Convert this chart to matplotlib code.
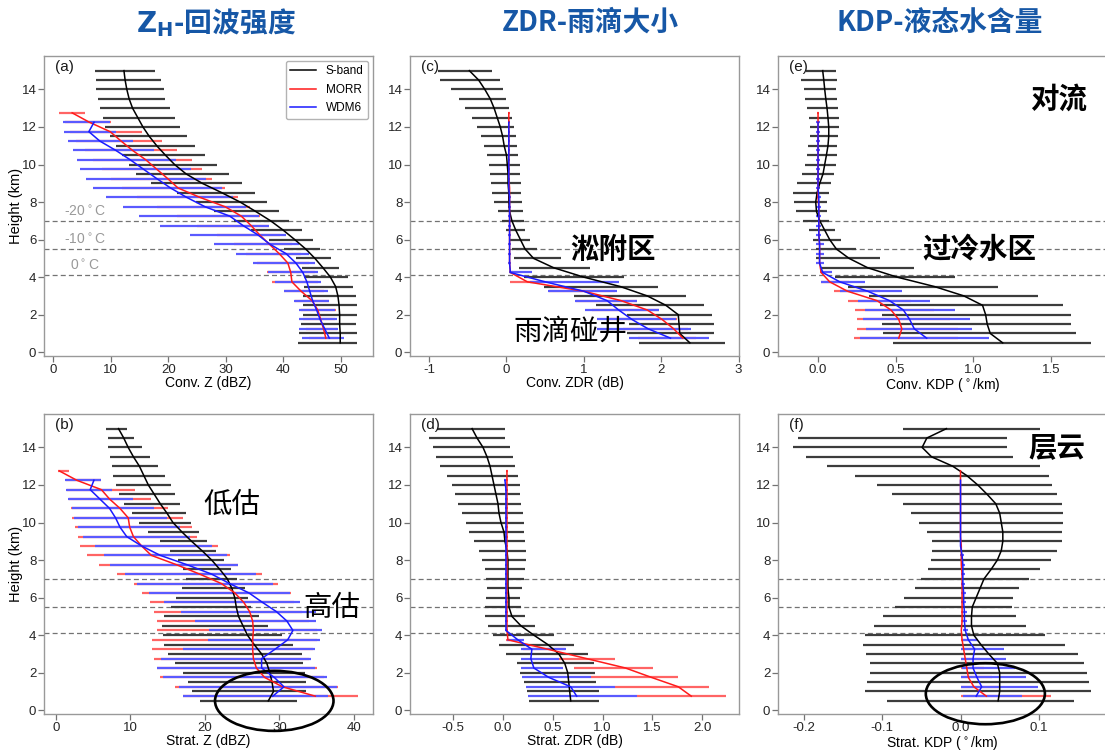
import matplotlib
matplotlib.use("Agg")
import matplotlib.pyplot as plt
from matplotlib.patches import Ellipse

plt.rcParams['font.family'] = ['Liberation Sans', 'Noto Sans CJK SC', 'DejaVu Sans']
plt.rcParams['axes.unicode_minus'] = False

# heights (km) of the radar profile and of the two model profiles
h_obs = [15.0, 14.5, 14.0, 13.5, 13.0, 12.5, 12.0, 11.5, 11.0, 10.5, 10.0, 9.5, 9.0, 8.5, 8.0,
         7.5, 7.0, 6.5, 6.0, 5.5, 5.0, 4.5, 4.0, 3.5, 3.0, 2.5, 2.0, 1.5, 1.0, 0.5]
h_morr = [12.75, 12.25, 11.75, 11.25, 10.75, 10.25, 9.75, 9.25, 8.75, 8.25, 7.75, 7.25, 6.75,
          6.25, 5.75, 5.25, 4.75, 4.25, 3.75, 3.25, 2.75, 2.25, 1.75, 1.25, 0.75]
h_wdm6 = [12.25, 11.75, 11.25, 10.75, 10.25, 9.75, 9.25, 8.75, 8.25, 7.75, 7.25, 6.75,
          6.25, 5.75, 5.25, 4.75, 4.25, 3.75, 3.25, 2.75, 2.25, 1.75, 1.25, 0.75]

# isotherm heights
iso_levels = [7.0, 5.5, 4.1]
iso_labels = ['-20$^\\circ$C', '-10$^\\circ$C', '0$^\\circ$C']

# ---- (a) convective Z
zc_obs = [12.3, 12.5, 12.8, 13.2, 13.8, 14.7, 15.6, 16.7, 18.0, 19.5, 21.1, 23.1, 25.9, 29.3, 32.5,
          35.2, 37.8, 40.0, 42.0, 43.9, 45.5, 46.9, 48.2, 49.1, 49.5, 49.7, 49.8, 49.8, 49.9, 49.9]
zc_obs_lo = [7.3, 7.4, 7.5, 7.8, 8.1, 8.6, 9.0, 9.9, 10.9, 12.0, 13.2, 14.4, 17.0, 21.5, 24.8,
             28.0, 31.5, 34.4, 37.6, 40.2, 42.2, 43.2, 43.6, 43.6, 43.5, 43.4, 43.4, 43.0, 42.8, 42.5]
zc_obs_hi = [17.7, 18.7, 19.3, 19.5, 20.3, 21.2, 22.1, 23.2, 24.6, 26.4, 28.5, 30.6, 32.8, 35.1, 37.1,
             39.3, 41.0, 43.2, 45.1, 46.3, 48.3, 49.7, 51.2, 52.1, 52.6, 52.8, 52.8, 52.7, 52.8, 52.9]
zc_morr = [3.3, 6.3, 9.9, 11.8, 13.8, 16.1, 18.0, 19.9, 21.7, 25.5, 29.9, 32.7, 34.4, 35.9, 37.6,
           39.3, 40.8, 41.3, 41.5, 43.1, 45.0, 46.0, 46.5, 47.0, 47.4]
zc_morr_lo = [1.0, 2.0, 3.0, 4.0, 5.5, 7.0, 8.5, 10.0, 12.0, 14.5, 18.0, 21.5, 25.0, 28.5, 31.5,
              33.5, 35.5, 37.1, 38.1, 40.2, 42.0, 43.0, 43.5, 44.0, 44.5]
zc_morr_hi = [5.5, 10.0, 15.4, 19.0, 21.6, 24.1, 25.8, 27.6, 29.9, 32.2, 34.2, 36.0, 37.5, 39.5, 41.5,
              43.0, 44.5, 45.5, 46.0, 47.0, 48.0, 49.2, 49.0, 49.3, 49.5]
zc_wdm6 = [7.1, 6.2, 8.1, 10.9, 13.4, 15.7, 18.0, 20.4, 23.2, 26.4, 30.7, 33.0, 35.6, 37.7, 40.5,
           42.2, 43.4, 44.1, 44.6, 45.1, 45.8, 46.4, 47.2, 48.0]
zc_wdm6_lo = [1.7, 1.9, 2.6, 3.5, 4.2, 4.6, 5.7, 7.0, 9.2, 12.1, 15.0, 18.6, 23.8, 28.0, 31.8,
              34.8, 37.3, 38.5, 40.2, 41.9, 42.7, 42.7, 42.7, 43.2]
zc_wdm6_hi = [9.9, 11.0, 13.9, 17.5, 21.3, 23.9, 26.5, 29.4, 31.2, 33.5, 35.8, 37.5, 40.5, 42.8, 44.5,
              45.5, 46.0, 46.5, 47.7, 48.0, 49.0, 49.4, 49.6, 50.6]

# ---- (b) stratiform Z
zs_obs = [8.4, 9.1, 9.7, 10.4, 11.2, 11.8, 12.4, 13.2, 14.0, 14.9, 15.7, 16.9, 18.2, 19.6, 20.9,
          22.0, 23.0, 23.6, 24.0, 24.2, 24.5, 25.1, 25.7, 26.6, 27.6, 28.3, 28.7, 29.0, 29.2, 28.5]
zs_obs_lo = [6.7, 7.0, 7.0, 7.2, 7.5, 7.7, 8.1, 8.5, 9.2, 10.2, 11.2, 12.4, 13.9, 15.3, 16.4,
             17.1, 17.5, 16.9, 16.1, 15.5, 14.5, 14.3, 14.4, 14.5, 15.0, 16.0, 17.0, 17.7, 18.3, 19.4]
zs_obs_hi = [9.6, 10.5, 11.5, 12.6, 13.7, 14.6, 15.4, 16.0, 16.6, 17.4, 18.1, 19.2, 20.3, 21.5, 22.5,
             23.5, 24.3, 25.4, 25.8, 26.2, 27.3, 28.5, 30.3, 31.8, 33.0, 33.2, 33.4, 33.6, 33.6, 32.4]
zs_morr = [0.45, 2.8, 6.1, 7.2, 8.6, 9.7, 9.9, 10.4, 11.5, 12.8, 16.2, 19.3, 22.2, 24.0, 25.2,
           26.0, 26.4, 26.5, 26.4, 26.4, 26.5, 26.9, 28.0, 30.4, 34.8]
zs_morr_lo = [0.3, 1.3, 1.5, 1.8, 2.0, 2.2, 2.5, 3.0, 3.2, 4.2, 5.8, 8.2, 10.5, 11.6, 12.6,
              13.2, 13.6, 13.6, 12.9, 12.9, 13.2, 13.5, 14.0, 16.0, 17.0]
zs_morr_hi = [1.7, 6.0, 10.6, 12.7, 15.1, 17.0, 18.3, 18.9, 21.7, 23.4, 24.5, 27.6, 29.8, 31.5, 32.0,
              33.0, 34.0, 35.0, 35.0, 34.5, 34.0, 35.0, 36.0, 37.8, 40.6]
zs_wdm6 = [5.1, 4.6, 5.9, 7.2, 8.0, 8.6, 9.5, 11.5, 14.0, 17.6, 20.9, 23.3, 25.9, 27.7, 29.6,
           31.0, 31.8, 31.1, 29.4, 27.6, 27.6, 29.3, 30.6, 29.1]
zs_wdm6_lo = [1.2, 1.4, 1.6, 2.2, 2.4, 2.9, 3.7, 5.2, 6.5, 7.3, 9.3, 10.9, 12.5, 14.5, 16.8,
              18.6, 20.6, 20.4, 17.0, 14.1, 13.6, 14.4, 16.5, 17.0]
zs_wdm6_hi = [6.1, 7.5, 10.4, 13.1, 14.9, 16.6, 18.0, 21.0, 23.0, 24.4, 26.9, 29.1, 31.4, 32.7, 34.9,
              34.9, 35.7, 35.5, 34.8, 34.2, 34.8, 36.4, 37.7, 36.5]

# ---- (c) convective ZDR
dc_obs = [-0.48, -0.36, -0.28, -0.21, -0.16, -0.12, -0.08, -0.05, -0.03, 0.0, 0.01, 0.02, 0.02, 0.03, 0.03,
          0.04, 0.07, 0.12, 0.18, 0.24, 0.35, 0.61, 1.0, 1.47, 1.82, 2.06, 2.22, 2.23, 2.24, 2.37]
dc_obs_lo = [-0.88, -0.86, -0.72, -0.62, -0.53, -0.45, -0.38, -0.33, -0.29, -0.25, -0.23, -0.21, -0.20, -0.19, -0.16,
             -0.11, -0.06, 0.0, 0.05, 0.07, 0.10, 0.16, 0.22, 0.48, 0.87, 1.16, 1.56, 1.58, 1.56, 1.71]
dc_obs_hi = [-0.19, -0.08, -0.04, 0.0, 0.03, 0.07, 0.10, 0.12, 0.13, 0.15, 0.17, 0.18, 0.19, 0.19, 0.20,
             0.21, 0.22, 0.24, 0.31, 0.39, 0.70, 1.08, 1.52, 1.96, 2.32, 2.55, 2.66, 2.68, 2.68, 2.82]
dc_morr = [0.03, 0.03, 0.03, 0.03, 0.03, 0.03, 0.03, 0.03, 0.04, 0.04, 0.04, 0.04, 0.04, 0.04, 0.04,
           0.04, 0.04, 0.05, 0.27, 1.00, 1.48, 1.82, 2.01, 2.16, 2.28]
dc_morr_lo = [0.02, 0.02, 0.02, 0.02, 0.02, 0.02, 0.02, 0.02, 0.03, 0.03, 0.03, 0.03, 0.03, 0.03, 0.03,
              0.03, 0.03, 0.03, 0.05, 0.55, 0.90, 1.10, 1.30, 1.50, 1.70]
dc_morr_hi = [0.04, 0.04, 0.04, 0.04, 0.04, 0.04, 0.04, 0.04, 0.05, 0.05, 0.05, 0.05, 0.05, 0.05, 0.05,
              0.05, 0.05, 0.08, 0.50, 1.40, 1.69, 1.97, 2.20, 2.35, 2.45]
dc_wdm6 = [0.03, 0.03, 0.03, 0.03, 0.03, 0.03, 0.03, 0.03, 0.04, 0.04, 0.04, 0.04, 0.04, 0.04, 0.04,
           0.04, 0.05, 0.50, 1.00, 1.30, 1.45, 1.62, 1.83, 2.12]
dc_wdm6_lo = [0.015, 0.015, 0.015, 0.015, 0.015, 0.015, 0.015, 0.015, 0.025, 0.025, 0.025, 0.025, 0.025,
              0.025, 0.025, 0.025, 0.03, 0.30, 0.54, 0.88, 1.02, 1.17, 1.17, 1.58]
dc_wdm6_hi = [0.045, 0.045, 0.045, 0.045, 0.045, 0.045, 0.045, 0.045, 0.055, 0.055, 0.055, 0.055, 0.055,
              0.055, 0.055, 0.055, 0.33, 1.45, 1.43, 1.69, 1.97, 2.19, 2.38, 2.62]

# ---- (d) stratiform ZDR
dd_obs = [-0.31, -0.26, -0.20, -0.16, -0.13, -0.11, -0.09, -0.07, -0.05, -0.04, -0.02, 0.01, 0.02, 0.04, 0.05,
          0.05, 0.05, 0.05, 0.06, 0.06, 0.09, 0.18, 0.31, 0.45, 0.56, 0.62, 0.65, 0.66, 0.67, 0.68]
dd_obs_lo = [-0.66, -0.74, -0.70, -0.67, -0.63, -0.56, -0.51, -0.48, -0.45, -0.41, -0.37, -0.34, -0.29, -0.24, -0.21,
             -0.18, -0.17, -0.16, -0.17, -0.18, -0.18, -0.15, -0.10, -0.04, 0.03, 0.14, 0.17, 0.21, 0.24, 0.26]
dd_obs_hi = [0.02, 0.02, 0.07, 0.10, 0.12, 0.15, 0.17, 0.17, 0.18, 0.20, 0.21, 0.21, 0.22, 0.23, 0.23,
             0.22, 0.21, 0.19, 0.17, 0.18, 0.22, 0.32, 0.51, 0.71, 0.85, 0.91, 0.92, 0.93, 0.96, 0.96]
dd_morr = [0.04, 0.04, 0.04, 0.04, 0.04, 0.04, 0.04, 0.04, 0.04, 0.04, 0.04, 0.04, 0.04, 0.04, 0.04,
           0.04, 0.04, 0.04, 0.05, 0.45, 0.84, 1.23, 1.49, 1.76, 1.89]
dd_morr_lo = [0.03, 0.03, 0.03, 0.03, 0.03, 0.03, 0.03, 0.03, 0.03, 0.03, 0.03, 0.03, 0.03, 0.03, 0.03,
              0.03, 0.03, 0.03, 0.03, 0.20, 0.56, 0.71, 0.88, 1.12, 1.35]
dd_morr_hi = [0.05, 0.05, 0.05, 0.05, 0.05, 0.05, 0.05, 0.05, 0.05, 0.05, 0.05, 0.05, 0.05, 0.05, 0.05,
              0.05, 0.05, 0.05, 0.07, 0.62, 1.12, 1.51, 1.76, 2.07, 2.24]
dd_wdm6 = [0.02, 0.03, 0.03, 0.03, 0.03, 0.03, 0.03, 0.03, 0.03, 0.03, 0.03, 0.03, 0.03, 0.03, 0.03,
           0.03, 0.03, 0.15, 0.29, 0.28, 0.31, 0.46, 0.68, 0.74]
dd_wdm6_lo = [0.01, 0.02, 0.02, 0.02, 0.02, 0.02, 0.02, 0.02, 0.02, 0.02, 0.02, 0.02, 0.02, 0.02, 0.02,
              0.02, 0.02, 0.04, 0.18, 0.18, 0.18, 0.19, 0.23, 0.25]
dd_wdm6_hi = [0.03, 0.04, 0.04, 0.04, 0.04, 0.04, 0.04, 0.04, 0.04, 0.04, 0.04, 0.04, 0.04, 0.04, 0.04,
              0.04, 0.04, 0.21, 0.63, 0.56, 0.60, 0.88, 1.12, 1.35]

# ---- (e) convective KDP
ke_obs = [0.030, 0.037, 0.043, 0.050, 0.058, 0.064, 0.069, 0.069, 0.064, 0.054, 0.043, 0.032, 0.011, -0.006, -0.015,
          -0.010, 0.011, 0.043, 0.075, 0.118, 0.20, 0.32, 0.51, 0.75, 0.94, 1.06, 1.08, 1.09, 1.11, 1.19]
ke_obs_lo = [-0.075, -0.112, -0.092, -0.082, -0.069, -0.058, -0.054, -0.054, -0.064, -0.069, -0.086, -0.103, -0.135,
             -0.161, -0.157, -0.140, -0.097, -0.060, -0.032, -0.011, -0.01, 0.02, 0.11, 0.19, 0.33, 0.40, 0.41,
             0.41, 0.42, 0.48]
ke_obs_hi = [0.118, 0.125, 0.118, 0.125, 0.129, 0.133, 0.133, 0.129, 0.125, 0.122, 0.114, 0.103, 0.086, 0.071, 0.058,
             0.058, 0.071, 0.107, 0.150, 0.247, 0.40, 0.62, 0.88, 1.16, 1.42, 1.58, 1.63, 1.63, 1.66, 1.76]
ke_morr = [0.0, 0.0, 0.0, 0.0, 0.0, 0.0, 0.0, 0.0, 0.0, 0.0, 0.005, 0.005, 0.005, 0.005, 0.01,
           0.01, 0.01, 0.02, 0.075, 0.19, 0.38, 0.47, 0.52, 0.54, 0.52]
ke_morr_lo = [-0.005, -0.005, -0.005, -0.005, -0.005, -0.005, -0.005, -0.005, -0.005, -0.005, 0.0, 0.0, 0.0, 0.0,
              0.005, 0.005, 0.005, 0.01, 0.02, 0.10, 0.19, 0.24, 0.25, 0.25, 0.23]
ke_morr_hi = [0.005, 0.005, 0.005, 0.005, 0.005, 0.005, 0.005, 0.005, 0.005, 0.005, 0.01, 0.01, 0.01, 0.01,
              0.015, 0.015, 0.015, 0.04, 0.20, 0.40, 0.60, 0.75, 0.85, 0.90, 0.90]
ke_wdm6 = [0.0, 0.0, 0.0, 0.0, 0.0, 0.0, 0.0, 0.0, 0.005, 0.005, 0.005, 0.005, 0.005, 0.01, 0.01,
           0.01, 0.03, 0.14, 0.32, 0.46, 0.55, 0.59, 0.62, 0.70]
ke_wdm6_lo = [-0.01, -0.01, -0.01, -0.01, -0.01, -0.01, -0.01, -0.01, -0.01, -0.01, -0.01, -0.01, -0.01, -0.01,
              -0.01, -0.01, 0.02, 0.02, 0.14, 0.26, 0.30, 0.29, 0.31, 0.27]
ke_wdm6_hi = [0.01, 0.01, 0.01, 0.01, 0.01, 0.01, 0.01, 0.01, 0.02, 0.02, 0.02, 0.02, 0.02, 0.04, 0.04,
              0.04, 0.09, 0.30, 0.54, 0.72, 0.88, 0.98, 0.99, 1.10]

# ---- (f) stratiform KDP
kf_obs = [-0.018, -0.043, -0.049, -0.037, -0.010, 0.008, 0.022, 0.034, 0.045, 0.050, 0.052, 0.054, 0.054, 0.052,
          0.047, 0.039, 0.030, 0.025, 0.020, 0.015, 0.014, 0.014, 0.017, 0.026, 0.036, 0.047, 0.050, 0.050, 0.050,
          0.048]
kf_obs_lo = [-0.073, -0.207, -0.214, -0.197, -0.170, -0.135, -0.106, -0.087, -0.073, -0.063, -0.053, -0.043, -0.037,
             -0.036, -0.038, -0.042, -0.050, -0.058, -0.072, -0.084, -0.099, -0.111, -0.122, -0.124, -0.121, -0.116,
             -0.116, -0.120, -0.122, -0.094]
kf_obs_hi = [0.101, 0.059, 0.059, 0.067, 0.101, 0.113, 0.117, 0.123, 0.129, 0.131, 0.131, 0.130, 0.129, 0.123,
             0.115, 0.101, 0.088, 0.075, 0.067, 0.066, 0.071, 0.084, 0.108, 0.133, 0.150, 0.157, 0.161, 0.164, 0.167,
             0.145]
kf_morr = [0.0, 0.0, 0.0, 0.0, 0.0, 0.0, 0.0, 0.0, 0.001, 0.001, 0.001, 0.002, 0.002, 0.002, 0.002,
           0.002, 0.002, 0.001, 0.002, 0.004, 0.006, 0.008, 0.010, 0.017, 0.033]
kf_morr_lo = [-0.001, -0.001, -0.001, -0.001, -0.001, -0.001, -0.001, -0.001, 0.0, 0.0, 0.0, 0.001, 0.001, 0.001,
              0.001, 0.001, 0.001, 0.0, 0.0, 0.0, 0.0, 0.0, 0.0, 0.0, 0.0]
kf_morr_hi = [0.001, 0.001, 0.001, 0.001, 0.001, 0.001, 0.001, 0.001, 0.002, 0.002, 0.002, 0.003, 0.003, 0.003,
              0.003, 0.003, 0.003, 0.002, 0.010, 0.020, 0.025, 0.030, 0.040, 0.050, 0.116]
kf_wdm6 = [0.0, 0.0, 0.0, 0.0, 0.0, 0.0, 0.0, 0.0, 0.002, 0.003, 0.003, 0.003, 0.004, 0.004, 0.005,
           0.005, 0.006, 0.010, 0.018, 0.016, 0.016, 0.021, 0.027, 0.020]
kf_wdm6_lo = [-0.001, -0.001, -0.001, -0.001, -0.001, -0.001, -0.001, -0.001, -0.001, 0.0, 0.0, 0.0, 0.001, 0.001,
              0.002, 0.002, 0.003, 0.003, 0.001, 0.001, 0.002, 0.001, 0.001, 0.003]
kf_wdm6_hi = [0.001, 0.001, 0.001, 0.001, 0.001, 0.001, 0.001, 0.001, 0.005, 0.006, 0.006, 0.006, 0.007, 0.007,
              0.008, 0.008, 0.009, 0.022, 0.056, 0.058, 0.070, 0.084, 0.099, 0.079]

TITLE_BLUE = '#1657a6'
CJK = ['Noto Sans CJK SC', 'DejaVu Sans']


def draw_panel(ax, obs, morr, wdm6, xlim, xticks, xlabel, tag, ylabel=True):
    series = [(h_obs, obs, '#3c3c3c', 'k'), (h_morr, morr, '#ff6464', '#ff1a1a'),
              (h_wdm6, wdm6, '#5a5aff', '#1a1aff')]
    # spread bars first, mean profiles on top
    for h, (mean, lo, hi), bar_c, line_c in series:
        ax.hlines(h, lo, hi, colors=bar_c, lw=1.6, zorder=2)
    for (h, (mean, lo, hi), bar_c, line_c), name in zip(series, ['S-band', 'MORR', 'WDM6']):
        ax.plot(mean, h, color=line_c, lw=1.1, label=name, zorder=3)
    for lev in iso_levels:
        ax.axhline(lev, color='0.45', ls=(0, (4, 2.5)), lw=0.9, zorder=1)
    ax.set_xlim(*xlim)
    ax.set_ylim(-0.2, 15.78)
    ax.set_xticks(xticks)
    ax.set_yticks([0, 2, 4, 6, 8, 10, 12, 14])
    ax.set_xlabel(xlabel, fontsize=10, labelpad=0)
    if ylabel:
        ax.set_ylabel('Height (km)', fontsize=10.5)
        ax.yaxis.set_label_coords(-0.064, 0.5)
    ax.tick_params(direction='out', length=4, width=0.9, pad=1.5, color='0.45', labelsize=9.5,
                   labelcolor='0.15')
    for sp in ax.spines.values():
        sp.set_color('0.6')
        sp.set_linewidth(1.0)
    ax.text(0.033, 0.985, tag, transform=ax.transAxes, ha='left', va='top', fontsize=11, color='0.1')


fig = plt.figure(figsize=(11.05, 7.5), dpi=100)
W, H = 1105.0, 750.0


def add_axes(left, top):
    return fig.add_axes([left / W, 1 - (top + 300) / H, 329 / W, 300 / H])


ax_a = add_axes(44, 56)
ax_b = add_axes(44, 414)
ax_c = add_axes(410, 56)
ax_d = add_axes(410, 414)
ax_e = add_axes(778, 56)
ax_f = add_axes(778, 414)

draw_panel(ax_a, (zc_obs, zc_obs_lo, zc_obs_hi), (zc_morr, zc_morr_lo, zc_morr_hi),
           (zc_wdm6, zc_wdm6_lo, zc_wdm6_hi), (-1.6, 55.6), [0, 10, 20, 30, 40, 50], 'Conv. Z (dBZ)', '(a)')
draw_panel(ax_b, (zs_obs, zs_obs_lo, zs_obs_hi), (zs_morr, zs_morr_lo, zs_morr_hi),
           (zs_wdm6, zs_wdm6_lo, zs_wdm6_hi), (-1.6, 42.55), [0, 10, 20, 30, 40], 'Strat. Z (dBZ)', '(b)')
draw_panel(ax_c, (dc_obs, dc_obs_lo, dc_obs_hi), (dc_morr, dc_morr_lo, dc_morr_hi),
           (dc_wdm6, dc_wdm6_lo, dc_wdm6_hi), (-1.247, 3.005), [-1, 0, 1, 2, 3], 'Conv. ZDR (dB)', '(c)',
           ylabel=False)
draw_panel(ax_d, (dd_obs, dd_obs_lo, dd_obs_hi), (dd_morr, dd_morr_lo, dd_morr_hi),
           (dd_wdm6, dd_wdm6_lo, dd_wdm6_hi), (-0.933, 2.369), [-0.5, 0.0, 0.5, 1.0, 1.5, 2.0],
           'Strat. ZDR (dB)', '(d)', ylabel=False)
draw_panel(ax_e, (ke_obs, ke_obs_lo, ke_obs_hi), (ke_morr, ke_morr_lo, ke_morr_hi),
           (ke_wdm6, ke_wdm6_lo, ke_wdm6_hi), (-0.258, 1.862), [0.0, 0.5, 1.0, 1.5],
           'Conv. KDP ($^\\circ$/km)', '(e)', ylabel=False)
draw_panel(ax_f, (kf_obs, kf_obs_lo, kf_obs_hi), (kf_morr, kf_morr_lo, kf_morr_hi),
           (kf_wdm6, kf_wdm6_lo, kf_wdm6_hi), (-0.233, 0.187), [-0.2, -0.1, 0.0, 0.1],
           'Strat. KDP ($^\\circ$/km)', '(f)', ylabel=False)

# isotherm labels in (a)
for lev, lab, x0 in zip(iso_levels, iso_labels, [1.9, 1.9, 2.9]):
    ax_a.text(x0, lev + 0.12, lab, fontsize=10, color='0.6', ha='left', va='bottom')

leg = ax_a.legend(loc='upper right', fontsize=8.5, handlelength=2.2, borderaxespad=0.4,
                  labelspacing=0.55, framealpha=1)
leg.get_frame().set_edgecolor('0.7')

# circled regions near the surface
for ax, xy, w, h in [(ax_b, (29.3, 0.5), 15.9, 3.2), (ax_f, (0.0317, 0.88), 0.152, 3.25)]:
    ax.add_patch(Ellipse(xy, w, h, fill=False, edgecolor='k', lw=1.9, clip_on=False, zorder=5))

# region notes
notes = [
    (ax_c, 1.38, 5.43, '淞附区', 'bold'),
    (ax_c, 0.83, 1.12, '雨滴碰井', 'normal'),
    (ax_e, 1.04, 5.43, '过冷水区', 'bold'),
    (ax_e, 1.55, 13.46, '对流', 'bold'),
    (ax_f, 0.123, 13.94, '层云', 'bold'),
    (ax_b, 23.6, 10.96, '低估', 'normal'),
    (ax_b, 37.0, 5.43, '高估', 'normal'),
]
for ax, x, y, s, wt in notes:
    ax.text(x, y, s, family=CJK, fontsize=20.5, fontweight=wt, ha='center', va='center', color='k',
            zorder=6)

# column headings
for xc, s in [(216, '$\\mathbf{Z_H}$-回波强度'), (590, 'ZDR-雨滴大小'), (940, 'KDP-液态水含量')]:
    fig.text(xc / W, 1 - 23 / H, s, family=CJK, fontsize=20, fontweight='bold', color=TITLE_BLUE,
             ha='center', va='center')

fig.savefig('out.png', dpi=100)
